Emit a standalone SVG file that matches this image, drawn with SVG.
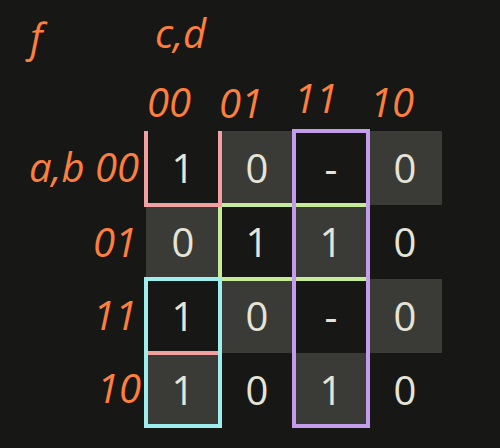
<svg xmlns="http://www.w3.org/2000/svg" width="500" height="448" viewBox="0 0 500 448">
<style>
.lbl{font-family:"Open Sans","Noto Sans",sans-serif;font-style:italic;font-size:40px;fill:#fd7f3d}
.val{font-family:"Open Sans","Noto Sans",sans-serif;font-size:40px;fill:#e6e4d6;text-anchor:middle}
.sh{fill:#3a3a36}
.loop{fill:none;stroke-width:4}
</style>
<rect width="500" height="448" fill="#171715"/>
<g id="labels">
<text class="lbl" x="30" y="52">f</text>
<text class="lbl" x="155" y="48">c,d</text>
<text class="lbl" x="169" y="117" text-anchor="middle">00</text>
<text class="lbl" x="241" y="118" text-anchor="middle">01</text>
<text class="lbl" x="316" y="113" text-anchor="middle">11</text>
<text class="lbl" x="392" y="117" text-anchor="middle">10</text>
<text class="lbl" x="139" y="182" text-anchor="end">a,b 00</text>
<text class="lbl" x="137" y="257" text-anchor="end">01</text>
<text class="lbl" x="137" y="330" text-anchor="end">11</text>
<text class="lbl" x="141" y="403" text-anchor="end">10</text>
</g>
<g id="cells">
<g id="c00_00"><text class="val" x="183" y="183">1</text></g>
<g id="c00_01"><rect class="sh" x="220" y="131" width="74" height="74"/><text class="val" x="257" y="183">0</text></g>
<g id="c00_11"><text class="val" x="331" y="183">-</text></g>
<g id="c00_10"><rect class="sh" x="368" y="131" width="74" height="74"/><text class="val" x="405" y="183">0</text></g>
<g id="c01_00"><rect class="sh" x="146" y="205" width="74" height="74"/><text class="val" x="183" y="257">0</text></g>
<g id="c01_01"><text class="val" x="257" y="257">1</text></g>
<g id="c01_11"><rect class="sh" x="294" y="205" width="74" height="74"/><text class="val" x="331" y="257">1</text></g>
<g id="c01_10"><text class="val" x="405" y="257">0</text></g>
<g id="c11_00"><text class="val" x="183" y="331">1</text></g>
<g id="c11_01"><rect class="sh" x="220" y="279" width="74" height="74"/><text class="val" x="257" y="331">0</text></g>
<g id="c11_11"><text class="val" x="331" y="331">-</text></g>
<g id="c11_10"><rect class="sh" x="368" y="279" width="74" height="74"/><text class="val" x="405" y="331">0</text></g>
<g id="c10_00"><rect class="sh" x="146" y="353" width="74" height="74"/><text class="val" x="183" y="405">1</text></g>
<g id="c10_01"><text class="val" x="257" y="405">0</text></g>
<g id="c10_11"><rect class="sh" x="294" y="353" width="74" height="74"/><text class="val" x="331" y="405">1</text></g>
<g id="c10_10"><text class="val" x="405" y="405">0</text></g>
</g>
<g id="loops">
<g id="loop-green"><path class="loop" stroke="#c6ec9a" d="M368 205 H220 V279 H368"/></g>
<g id="loop-pink"><path class="loop" stroke="#f2a0a0" d="M146 131 V205 H220 V131 M146 427 V353 H220 V427"/></g>
<g id="loop-cyan"><rect class="loop" stroke="#9eeeee" x="146" y="279" width="74" height="147"/></g>
<g id="loop-purple"><rect class="loop" stroke="#c49cec" x="294" y="131" width="74" height="295"/></g>
</g>
</svg>
